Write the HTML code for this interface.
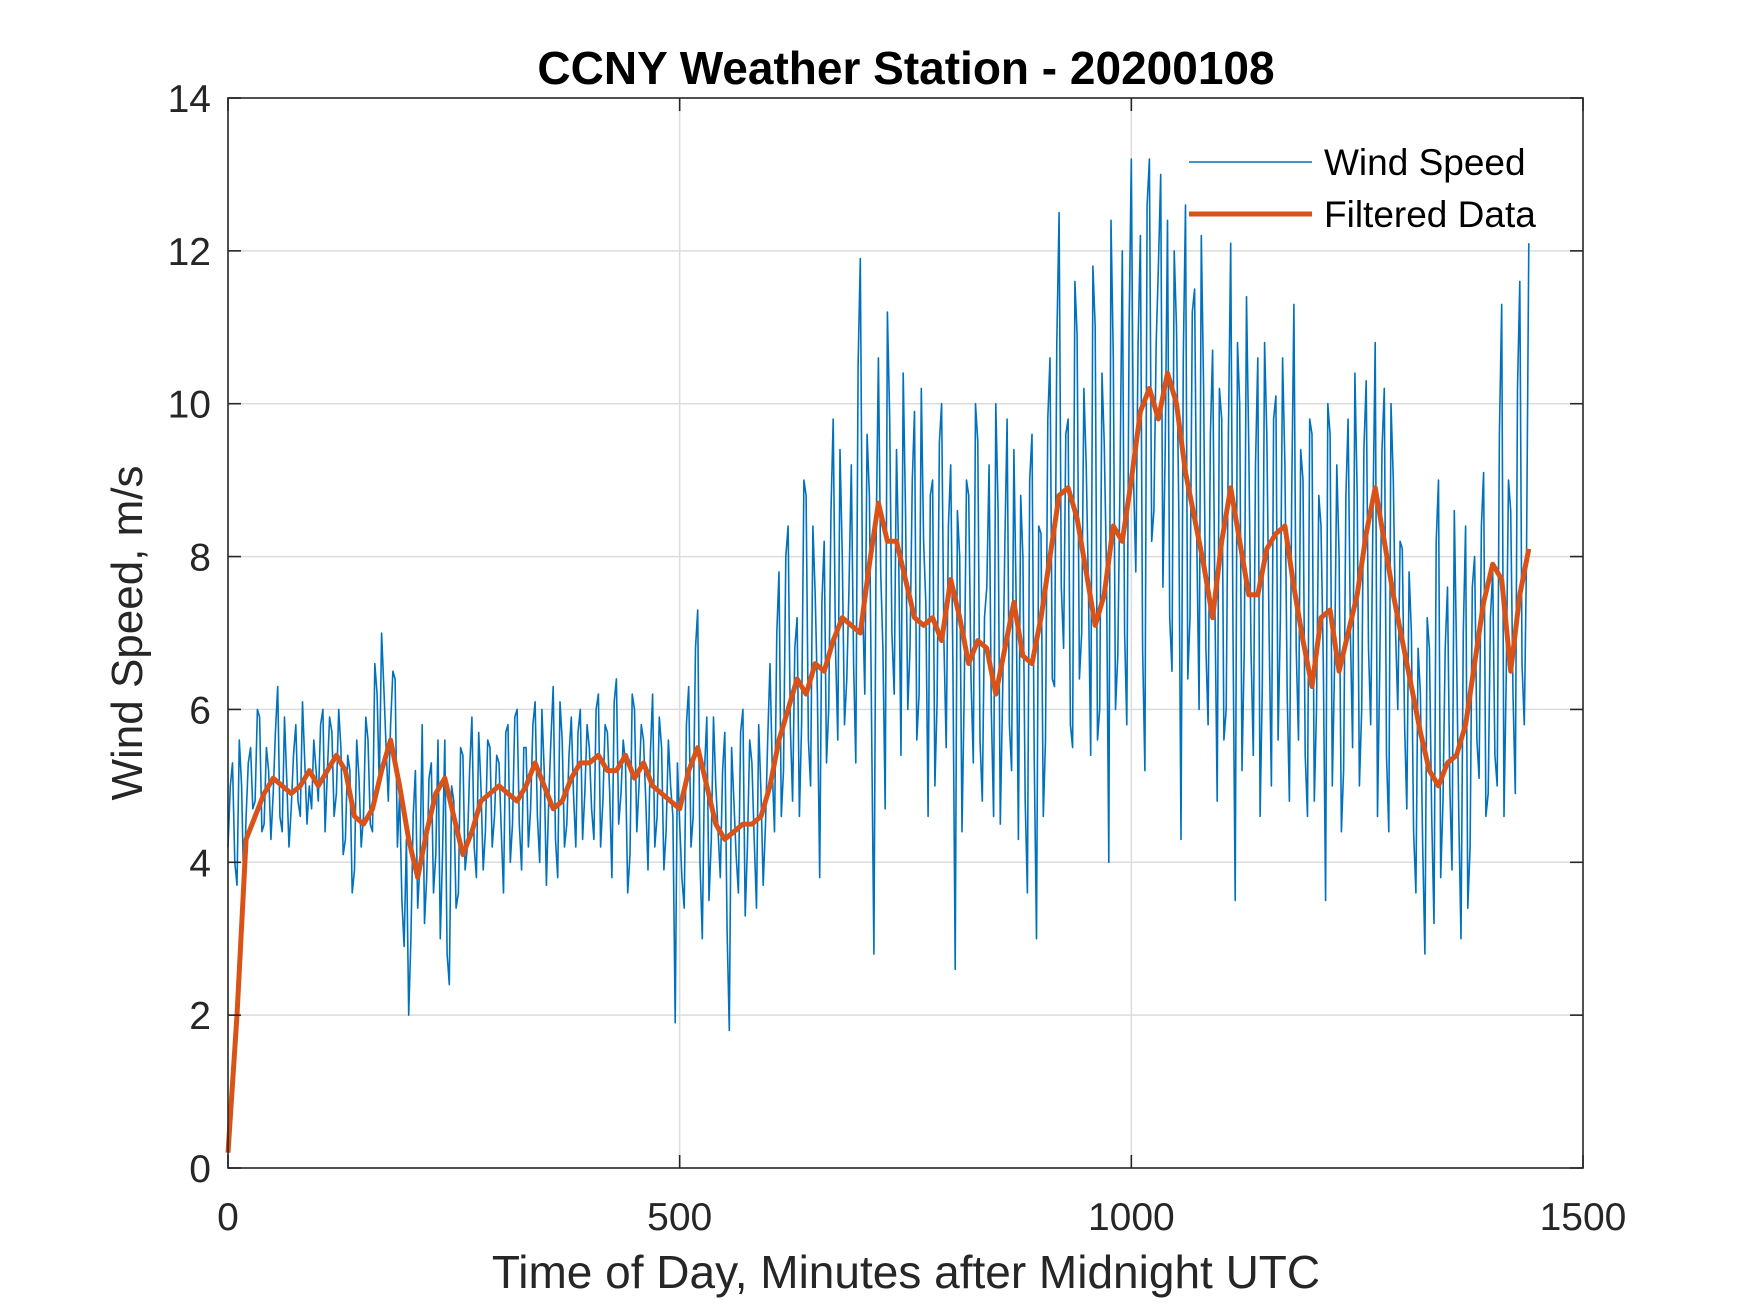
<!DOCTYPE html>
<html><head><meta charset="utf-8"><style>
html,body{margin:0;padding:0;background:#fff;}
svg{display:block;font-family:"Liberation Sans",Arial,sans-serif;}
</style></head><body>
<svg id="chart" width="1750" height="1313" viewBox="0 0 1750 1313">
<rect width="1750" height="1313" fill="#fff"/>
<g id="grid"></g>
<g id="series"></g>
<rect x="228" y="98" width="1355" height="1070" fill="none" stroke="#262626" stroke-width="1.6"/>
<g id="ticks"></g>
<text x="906" y="84" text-anchor="middle" font-size="46" font-weight="bold" fill="#000">CCNY Weather Station - 20200108</text>
<text x="906" y="1288" text-anchor="middle" font-size="46" fill="#262626">Time of Day, Minutes after Midnight UTC</text>
<text transform="translate(142,633) rotate(-90)" text-anchor="middle" font-size="44" fill="#262626">Wind Speed, m/s</text>
<g>
<g>
<line x1="1189" y1="162" x2="1312" y2="162" stroke="#0072BD" stroke-width="1.6"/>
<text x="1324" y="175" font-size="37" fill="#000">Wind Speed</text>
</g>
<g>
<line x1="1189" y1="214" x2="1312" y2="214" stroke="#D95319" stroke-width="5"/>
<text x="1324" y="227" font-size="37" fill="#000">Filtered Data</text>
</g>
</g>
</svg>
<script>
const windStepMinutes = 5;
const windSpeed = [
4.2,5.3,3.7,5.0,4.6,5.5,4.8,5.9,4.5,5.2,4.9,6.3,4.4,5.1,4.7,5.8,4.6,5.3,5.0,5.6,
4.8,6.0,5.2,5.7,4.9,5.5,4.3,5.2,3.9,5.1,4.6,5.6,4.4,6.2,7.0,5.5,5.8,6.4,4.9,2.9,
2.0,4.6,3.4,5.8,3.8,5.3,4.1,3.0,5.6,2.4,4.8,3.6,5.4,4.2,5.9,3.8,5.0,4.4,5.5,4.6,
5.3,3.6,5.8,4.5,6.0,3.9,5.5,4.7,6.1,4.0,5.2,4.8,6.3,3.8,5.6,4.5,5.9,4.2,6.0,4.9,
5.5,4.3,6.2,4.8,5.7,3.8,6.4,4.9,5.3,4.1,6.0,5.0,5.6,3.9,6.2,4.6,5.5,4.4,5.0,1.9,
4.5,3.4,6.3,4.6,7.3,3.0,5.9,4.3,5.0,3.8,5.7,1.8,4.8,3.6,6.0,4.2,5.3,3.4,4.9,4.5,
6.6,4.4,7.8,5.2,8.4,4.8,7.2,5.8,8.8,5.0,7.5,3.8,8.2,6.0,9.8,5.6,8.0,6.4,9.2,5.3,
11.9,6.2,8.8,2.8,10.6,6.8,11.2,7.0,9.4,5.4,8.6,6.8,9.9,6.2,8.2,4.6,9.0,6.1,10.0,5.5,
9.2,2.6,8.0,6.2,8.8,5.3,9.5,4.8,7.6,6.0,10.0,4.5,8.2,5.8,9.4,4.3,8.0,3.6,9.6,3.0,
8.3,5.6,10.6,6.3,12.5,6.8,9.8,5.5,10.9,7.0,9.2,5.4,11.0,6.0,9.5,4.0,10.6,6.7,12.0,5.8,
13.2,7.8,12.2,5.2,13.2,8.6,11.8,7.6,12.4,6.5,11.0,4.3,12.6,7.2,11.5,6.0,10.2,5.8,10.7,4.8,
9.8,6.0,12.1,3.5,10.0,6.8,9.4,5.4,10.6,6.3,9.6,5.0,10.1,7.2,9.2,4.8,11.3,5.6,9.0,4.6,
9.6,6.0,8.4,3.5,9.6,6.6,8.0,5.2,9.8,5.5,8.8,6.0,10.3,5.8,10.8,6.6,10.2,4.4,9.0,6.0,
8.1,4.7,7.0,3.6,6.2,2.8,6.8,3.2,9.0,4.8,7.6,3.9,6.8,3.0,8.4,4.2,8.0,5.1,9.1,4.9,
7.8,5.0,11.3,6.4,8.6,4.9,11.6,5.8,12.1
];
// readings halfway between the 5-minute samples
const windSpeedMid = [
5.0,4.0,5.6,3.6,5.3,4.7,6.0,4.4,5.5,4.3,5.7,4.6,5.9,4.2,5.4,4.8,6.1,4.5,4.7,5.2,
5.8,4.4,5.9,4.6,6.0,4.1,5.4,3.6,5.6,4.2,5.9,4.5,6.6,5.0,6.3,4.8,6.5,4.2,3.5,4.3,
3.0,5.2,4.0,3.2,5.1,3.6,5.6,4.1,2.8,5.0,3.4,5.5,3.9,5.2,4.2,5.7,3.9,5.6,4.2,5.4,
4.4,5.7,4.0,5.9,4.5,5.5,4.2,5.8,4.6,6.0,3.7,5.6,4.3,6.1,4.2,5.4,4.9,5.7,4.3,5.8,
4.7,6.0,4.2,5.8,4.9,6.1,4.5,5.6,3.6,6.2,4.4,5.8,4.8,5.4,4.2,5.9,3.9,5.6,4.6,5.3,
3.8,5.8,4.2,6.8,4.0,5.2,3.5,5.9,4.4,5.2,3.1,5.5,4.1,5.7,3.3,5.6,4.3,5.8,3.7,5.6,
5.2,7.0,4.6,8.0,5.8,6.8,4.6,9.0,5.6,8.4,6.2,7.4,5.3,8.6,6.8,9.4,5.8,7.6,6.6,10.5,
7.4,9.6,5.8,8.2,7.8,4.7,9.8,6.2,8.0,10.4,6.0,9.0,5.6,10.2,7.4,8.8,5.0,9.5,6.9,8.4,
6.6,8.6,4.4,9.0,6.4,10.0,5.6,7.2,9.2,4.6,8.6,6.2,9.8,5.2,7.4,8.8,4.8,9.0,5.4,8.4,
4.6,9.8,6.4,10.8,7.6,9.6,5.8,11.6,6.4,10.2,7.6,11.8,5.6,10.4,7.8,12.4,6.0,9.0,7.0,11.0,
9.0,10.8,6.8,12.6,8.2,10.8,13.0,9.4,7.2,12.0,8.6,10.6,6.4,11.2,8.2,12.2,6.8,9.6,7.4,10.2,
5.6,9.6,7.0,10.8,5.2,11.4,6.8,9.2,4.6,10.8,7.0,9.8,5.6,10.6,6.2,8.8,6.8,9.4,5.4,9.8,
4.8,8.8,6.6,10.0,5.0,9.2,4.4,8.8,7.0,10.4,5.0,9.4,6.8,8.6,4.6,9.4,5.4,10.0,7.0,8.2,
5.8,7.8,4.4,6.8,4.2,7.2,4.6,8.2,3.8,6.8,5.0,8.6,4.6,7.0,3.4,7.6,5.6,8.4,4.6,7.2,
5.4,9.6,4.6,9.0,6.2,10.2,6.6,8.0
];
const filteredStepMinutes = 10;
const filteredData = [
0.2,2.0,4.3,4.6,4.9,5.1,5.0,4.9,5.0,5.2,5.0,5.2,5.4,5.2,4.6,4.5,4.7,5.2,5.6,5.0,4.3,3.8,4.4,4.9,5.1,4.6,4.1,4.4,4.8,4.9,
5.0,4.9,4.8,5.0,5.3,5.0,4.7,4.8,5.1,5.3,5.3,5.4,5.2,5.2,5.4,5.1,5.3,5.0,4.9,4.8,
4.7,5.2,5.5,5.0,4.5,4.3,4.4,4.5,4.5,4.6,
5.0,5.6,6.0,6.4,6.2,6.6,6.5,6.9,7.2,7.1,
7.0,7.9,8.7,8.2,8.2,7.7,7.2,7.1,7.2,6.9,
7.7,7.2,6.6,6.9,6.8,6.2,6.8,7.4,6.7,6.6,
7.2,8.0,8.8,8.9,8.5,7.8,7.1,7.5,8.4,8.2,
9.0,9.9,10.2,9.8,10.4,10.0,9.1,8.5,7.9,7.2,
8.2,8.9,8.2,7.5,7.5,8.1,8.3,8.4,7.6,6.9,
6.3,7.2,7.3,6.5,7.0,7.5,8.3,8.9,8.2,7.5,
6.9,6.3,5.7,5.2,5.0,5.3,5.4,5.8,6.6,7.4,
7.9,7.7,6.5,7.5,8.1
];
const xTicks = [0,500,1000,1500];
const yTicks = [0,2,4,6,8,10,12,14];

const L=228,R=1583,T=98,B=1168;
const xMin=0,xMax=1500,yMin=0,yMax=14;
function xs(v){return L+(v-xMin)/(xMax-xMin)*(R-L);}
function ys(v){return B-(v-yMin)/(yMax-yMin)*(B-T);}
const NS="http://www.w3.org/2000/svg";
function mk(tag,attrs,parent){const e=document.createElementNS(NS,tag);for(const k in attrs)e.setAttribute(k,attrs[k]);parent.appendChild(e);return e;}
const grid=document.getElementById('grid'),ticks=document.getElementById('ticks'),series=document.getElementById('series');

xTicks.forEach(t=>{
  const x=xs(t);
  if(t>xMin&&t<xMax){const g=mk('line',{x1:x,y1:T,x2:x,y2:B,stroke:'#dcdcdc','stroke-width':1.5},grid);
  
  }
  mk('line',{x1:x,y1:B,x2:x,y2:B-13,stroke:'#262626','stroke-width':1.6},ticks);
  mk('line',{x1:x,y1:T,x2:x,y2:T+13,stroke:'#262626','stroke-width':1.6},ticks);
  const lb=mk('text',{x:x,y:1230,'text-anchor':'middle','font-size':39,fill:'#262626'},ticks);
  lb.textContent=t;
  
  
});
yTicks.forEach(t=>{
  const y=ys(t);
  if(t>yMin&&t<yMax){const g=mk('line',{x1:L,y1:y,x2:R,y2:y,stroke:'#dcdcdc','stroke-width':1.5},grid);
  
  }
  mk('line',{x1:L,y1:y,x2:L+13,y2:y,stroke:'#262626','stroke-width':1.6},ticks);
  mk('line',{x1:R,y1:y,x2:R-13,y2:y,stroke:'#262626','stroke-width':1.6},ticks);
  const lb=mk('text',{x:211,y:y+14,'text-anchor':'end','font-size':39,fill:'#262626'},ticks);
  lb.textContent=t;
  
  
});

const pts=[];
windSpeed.forEach((v,i)=>{
  pts.push([i*windStepMinutes,v]);
  if(i<windSpeedMid.length) pts.push([i*windStepMinutes+windStepMinutes/2,windSpeedMid[i]]);
});
const wp=pts.map(p=>xs(p[0]).toFixed(1)+','+ys(p[1]).toFixed(1)).join(' ');
const wl=mk('polyline',{points:wp,fill:'none',stroke:'#0072BD','stroke-width':1.6,'stroke-linejoin':'round'},series);


const fp=filteredData.map((v,i)=>xs(i*filteredStepMinutes).toFixed(1)+','+ys(v).toFixed(1)).join(' ');
const fl=mk('polyline',{points:fp,fill:'none',stroke:'#D95319','stroke-width':5,'stroke-linejoin':'round'},series);


</script>
</body></html>
